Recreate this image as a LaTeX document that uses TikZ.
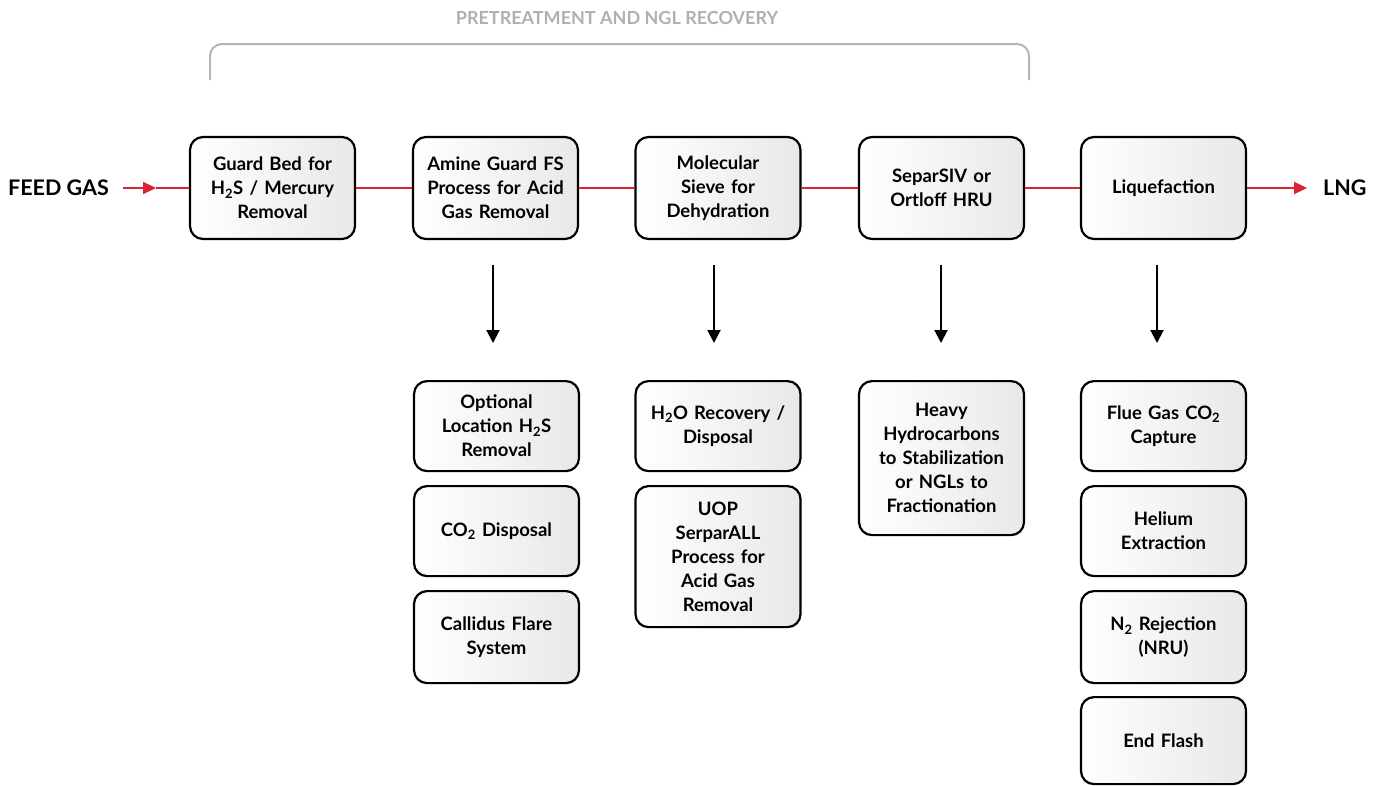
\documentclass[tikz,border=0pt]{standalone}
\usepackage{fontspec}
\setmainfont{Lato}
\usetikzlibrary{arrows.meta}
\definecolor{myred}{HTML}{DC2332}
\definecolor{brgray}{HTML}{B4B4B4}
\definecolor{lblgray}{HTML}{B0B0B0}
\newcommand{\pf}{\fontsize{18.5}{24}\selectfont\bfseries}
\newcommand{\sbs}[1]{\textsubscript{#1}}
\tikzset{
  proc/.style={draw=black, line width=2.2pt, rounded corners=13pt,
    left color=white, right color=black!9, minimum width=165pt,
    align=center, font=\pf, inner sep=3pt, text width=158pt},
  redline/.style={draw=myred, line width=2.2pt},
  redtip/.style={-{Triangle[length=13pt,width=12pt]}},
  downarrow/.style={draw=black, line width=2pt, -{Triangle[length=13pt,width=13pt]}},
  endlabel/.style={font=\fontsize{21.5}{24}\selectfont\bfseries, inner sep=0pt},
}
\begin{document}
\begin{tikzpicture}[x=1pt,y=-1pt]
\useasboundingbox (0,0) rectangle (1377,785);

% bracket
\draw[brgray, line width=2pt, rounded corners=12pt] (210,80) -- (210,44) -- (1029,44) -- (1029,80);
\node[text=lblgray, font=\fontsize{18}{20}\selectfont\bfseries, inner sep=0pt] (lbl) at (617,18) {PRETREATMENT AND NGL RECOVERY};

% top row
\node[proc, minimum height=102pt] (b1) at (272.5,188) {Guard Bed for\\H\sbs{2}S / Mercury\\Removal};
\node[proc, minimum height=102pt] (b2) at (495.5,188) {Amine Guard FS\\Process for Acid\\Gas Removal};
\node[proc, minimum height=102pt] (b3) at (718,188) {Molecular\\Sieve for\\Dehydration};
\node[proc, minimum height=102pt] (b4) at (941.5,188) {SeparSIV or\\Ortloff HRU};
\node[proc, minimum height=102pt] (b5) at (1163.5,188) {Liquefaction};

% feed and product
\node[endlabel, anchor=west] (feed) at (8,188) {FEED GAS};
\coordinate (fs) at (123,188);
\coordinate (fm) at (156,188);
\draw[redline, redtip] (fs) -- (fm);
\draw[redline] (fm) -- (b1.west);
\draw[redline] (b1) -- (b2);
\draw[redline] (b2) -- (b3);
\draw[redline] (b3) -- (b4);
\draw[redline] (b4) -- (b5);
\coordinate (le) at (1307,188);
\draw[redline, redtip] (b5.east) -- (le);
\node[endlabel, anchor=west] (lng) at (1323,188) {LNG};

% down arrows
\coordinate (d2s) at (493,265); \coordinate (d2e) at (493,343);
\coordinate (d3s) at (714,265); \coordinate (d3e) at (714,343);
\coordinate (d4s) at (941,265); \coordinate (d4e) at (941,343);
\coordinate (d5s) at (1157,265); \coordinate (d5e) at (1157,343);
\draw[downarrow] (d2s) -- (d2e);
\draw[downarrow] (d3s) -- (d3e);
\draw[downarrow] (d4s) -- (d4e);
\draw[downarrow] (d5s) -- (d5e);

% column 2
\node[proc, anchor=north, minimum height=90pt] (c21) at (496.5,380) {Optional\\Location H\sbs{2}S\\Removal};
\node[proc, anchor=north, minimum height=90pt] (c22) at (496.5,485) {CO\sbs{2} Disposal};
\node[proc, anchor=north, minimum height=92pt] (c23) at (496.5,590) {Callidus Flare\\System};

% column 3
\node[proc, anchor=north, minimum height=90pt] (c31) at (718,380) {H\sbs{2}O Recovery /\\Disposal};
\node[proc, anchor=north, minimum height=141pt] (c32) at (718,485) {UOP\\SerparALL\\Process for\\Acid Gas\\Removal};

% column 4
\node[proc, anchor=north, minimum height=154pt] (c41) at (941.5,380) {Heavy\\Hydrocarbons\\to Stabilization\\or NGLs to\\Fractionation};

% column 5
\node[proc, anchor=north, minimum height=90pt] (c51) at (1163.5,380) {Flue Gas CO\sbs{2}\\Capture};
\node[proc, anchor=north, minimum height=90pt] (c52) at (1163.5,485) {Helium\\Extraction};
\node[proc, anchor=north, minimum height=92pt] (c53) at (1163.5,590) {N\sbs{2} Rejection\\(NRU)};
\node[proc, anchor=north, minimum height=87pt] (c54) at (1163.5,696) {End Flash};
\end{tikzpicture}
\end{document}
